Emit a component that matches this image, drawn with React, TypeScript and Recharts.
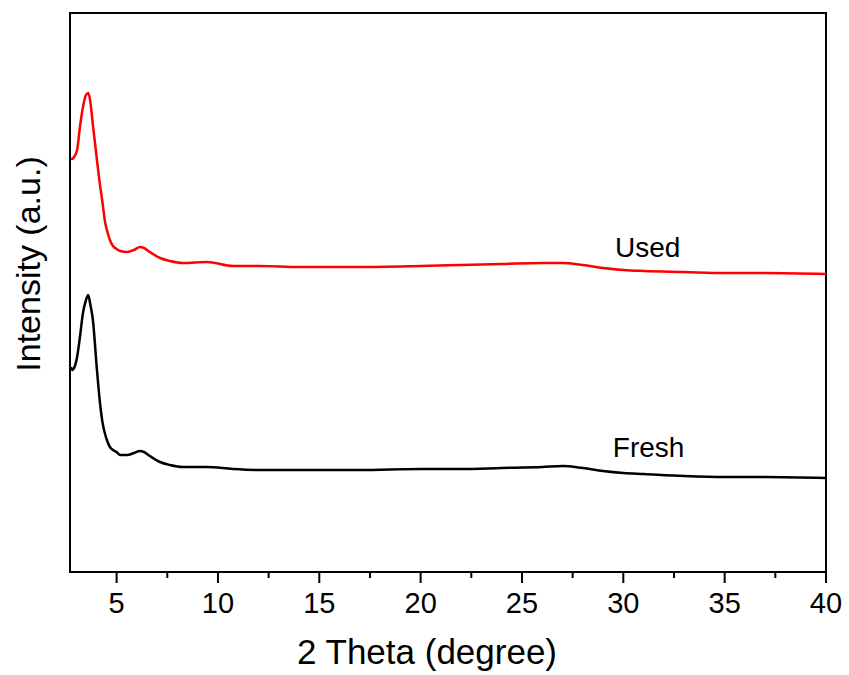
import { LineChart, Line, XAxis, YAxis, Label, ReferenceDot, ReferenceArea } from "recharts";

// 2θ positions (degree) shared by both patterns
const twoTheta = [
  2.75, 2.8, 2.9, 3.05, 3.19, 3.34, 3.49, 3.6, 3.69, 3.83, 4.03, 4.18, 4.3, 4.43, 4.52, 4.67,
  4.82, 5.0, 5.17, 5.51, 5.86, 6.15, 6.35, 6.64, 7.14, 7.63, 8.27, 9.46, 10.74, 12.07, 14, 17,
  20, 22, 24, 26, 27, 28, 29, 30, 31, 33, 35, 37, 40,
];

// intensities (a.u.)
const fresh = [
  205, 202, 204, 215, 235, 259, 272, 277, 269, 252, 202, 169, 150, 138, 132, 125,
  122, 120, 117, 117, 119, 121, 120, 116, 110, 107, 105, 105, 103, 102, 102, 102,
  103, 103, 104, 105, 106, 104, 101, 99, 98, 96, 95, 95, 94,
];
const used = [
  414, 413, 415, 422, 445, 465, 477, 479, 472, 447, 412, 387, 370, 350, 342, 332,
  326, 323, 321, 320, 322, 325, 324, 320, 314, 311, 309, 310, 306, 306, 305, 305,
  306, 307, 308, 309, 309, 307, 304, 302, 301, 300, 299, 299, 298,
];

const xTicks = [5, 7.5, 10, 12.5, 15, 17.5, 20, 22.5, 25, 27.5, 30, 32.5, 35, 37.5, 40];

const data = twoTheta.map((x, i) => ({ x, fresh: fresh[i], used: used[i] }));

const font = "'Liberation Sans', Arial, sans-serif";

const XTick = (props: any) => {
  const { x, y, payload } = props;
  const major = payload.value % 5 === 0;
  return (
    <g>
      <line x1={x} x2={x} y1={y} y2={y + (major ? 11 : 6)} stroke="#000" strokeWidth={2} />
      {major && (
        <text x={x} y={y + 41} textAnchor="middle" fontSize={29} fontFamily={font} fill="#000">
          {payload.value}
        </text>
      )}
    </g>
  );
};

export default function App() {
  return (
    <div style={{ width: 849, height: 675, background: "#fff" }}>
      <style>{"body{margin:0}"}</style>
      <LineChart width={849} height={675} data={data} margin={{ top: 13, right: 23, left: 0, bottom: 0 }}>
        <XAxis
          dataKey="x"
          type="number"
          domain={[2.7, 40]}
          allowDataOverflow
          ticks={xTicks}
          interval={0}
          tickSize={0}
          tickMargin={0}
          tickLine={false}
          tick={<XTick />}
          height={103}
          axisLine={{ stroke: "#000", strokeWidth: 2 }}
        >
          <Label
            content={() => (
              <text x={427} y={664} textAnchor="middle" fontSize={35} fontFamily={font} fill="#000">
                2 Theta (degree)
              </text>
            )}
          />
        </XAxis>
        <YAxis
          type="number"
          domain={[0, 559]}
          allowDataOverflow
          tick={false}
          tickLine={false}
          width={70}
          axisLine={{ stroke: "#000", strokeWidth: 2 }}
        >
          <Label
            content={() => (
              <text
                transform="translate(40,264) rotate(-90)"
                textAnchor="middle"
                fontSize={34}
                fontFamily={font}
                fill="#000"
              >
                Intensity (a.u.)
              </text>
            )}
          />
        </YAxis>
        {/* frame around the plot area */}
        <ReferenceArea x1={2.7} x2={40} y1={0} y2={559} fill="none" stroke="#000" strokeWidth={2} ifOverflow="visible" />
        <Line
          dataKey="fresh"
          type="monotone"
          stroke="#000000"
          strokeWidth={2.5}
          dot={false}
          isAnimationActive={false}
        />
        <Line
          dataKey="used"
          type="monotone"
          stroke="#ff0000"
          strokeWidth={2.5}
          dot={false}
          isAnimationActive={false}
        />
        <ReferenceDot
          x={31.2}
          y={325}
          r={0}
          fill="none"
          stroke="none"
          label={{ value: "Used", position: "center", fontSize: 28, fontFamily: font, fill: "#000" }}
        />
        <ReferenceDot
          x={31.25}
          y={125}
          r={0}
          fill="none"
          stroke="none"
          label={{ value: "Fresh", position: "center", fontSize: 28, fontFamily: font, fill: "#000" }}
        />
      </LineChart>
    </div>
  );
}
